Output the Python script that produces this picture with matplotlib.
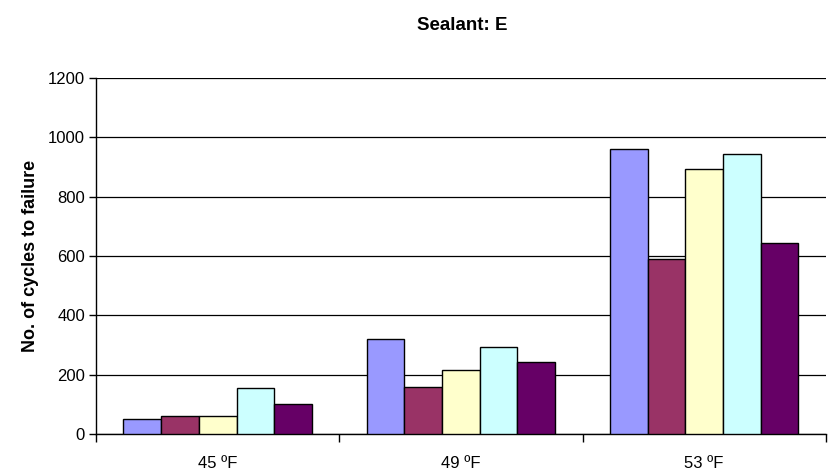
import numpy as np
import matplotlib.pyplot as plt

plt.rcParams['font.family'] = ['Liberation Sans', 'DejaVu Sans']

# Data
categories = ['45 ºF', '49 ºF', '53 ºF']
series1 = [52, 320, 961]
series2 = [61, 160, 590]
series3 = [61, 216, 895]
series4 = [157, 292, 943]
series5 = [100, 244, 645]

all_series = [series1, series2, series3, series4, series5]
colors = ['#9999FF', '#993366', '#FFFFCC', '#CCFFFF', '#660066']

fig = plt.figure(figsize=(8.35, 4.76), dpi=100)
ax = fig.add_axes([0.115, 0.088, 0.874, 0.748])

x = np.arange(len(categories))
bw = 0.155
n = len(all_series)
for i, vals in enumerate(all_series):
    ax.bar(x + (i - (n - 1) / 2) * bw, vals, bw, color=colors[i],
           edgecolor='black', linewidth=1.0, zorder=3)

ax.set_xlim(-0.5, len(categories) - 0.5)
ax.set_ylim(0, 1200)
ax.set_yticks(np.arange(0, 1201, 200))
ax.yaxis.grid(True, color='black', linewidth=0.9, zorder=0)
ax.set_axisbelow(True)

# category labels centered, ticks between groups
ax.set_xticks(x)
ax.set_xticklabels(categories, fontsize=12)
ax.tick_params(axis='x', length=0, pad=16)
ax.set_xticks(np.arange(-0.5, len(categories)), minor=True)
ax.tick_params(axis='x', which='minor', length=6, direction='out', width=1)
ax.tick_params(axis='y', length=5, direction='out', labelsize=12, width=1, pad=3)

for s in ['top', 'right']:
    ax.spines[s].set_visible(False)
ax.spines['left'].set_linewidth(1)
ax.spines['bottom'].set_linewidth(1)

ax.set_ylabel('No. of cycles to failure', fontsize=13, fontweight='bold', labelpad=6)
fig.suptitle('Sealant: E', x=0.553, y=0.965, fontsize=13.5, fontweight='bold')

fig.savefig('out.png', dpi=100)
plt.close()
